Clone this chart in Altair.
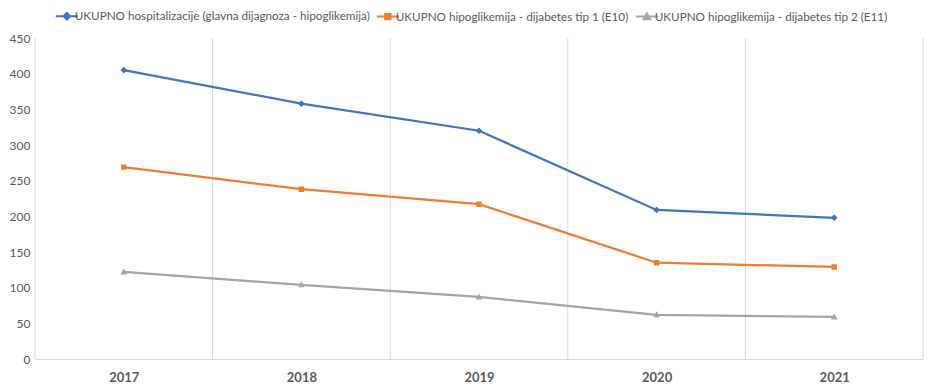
import altair as alt
import pandas as pd

years = [2017, 2018, 2019, 2020, 2021]
series = [
    "UKUPNO hospitalizacije (glavna dijagnoza - hipoglikemija)",
    "UKUPNO hipoglikemija - dijabetes tip 1 (E10)",
    "UKUPNO hipoglikemija - dijabetes tip 2 (E11)",
]
total_hosp = [405, 358, 320, 209, 198]
tip1 = [269, 238, 217, 135, 129]
tip2 = [122, 104, 87, 62, 59]
colors = ["#4472C4", "#ED7D31", "#A5A5A5"]
y_ticks = list(range(0, 451, 50))

# legend/marker symbols: a short line plus the marker (line only visible when stroked)
seg = "M-3.7,0H3.7"
shapes = [
    seg + "M0,-1.1L1.1,0L0,1.1L-1.1,0Z",
    seg + "M-0.9,-0.9H0.9V0.9H-0.9Z",
    seg + "M0,-1.15L1.1,0.85H-1.1Z",
]

rows = []
for s, vals in zip(series, [total_hosp, tip1, tip2]):
    for yr, v in zip(years, vals):
        rows.append({"year": yr, "series": s, "value": v})
df = pd.DataFrame(rows)

bounds = pd.DataFrame({"b": [y - 0.5 for y in years] + [years[-1] + 0.5]})

FONT = "Lato"
GREY = "#595959"

x_enc = alt.X(
    "year:Q",
    scale=alt.Scale(domain=[years[0] - 0.5, years[-1] + 0.5], nice=False, zero=False),
    axis=alt.Axis(
        values=years, format="d", title=None, grid=False, ticks=False,
        domainColor="#d9d9d9", labelFontWeight="bold", labelFontSize=13,
        labelColor=GREY, labelPadding=12, labelFont=FONT,
    ),
)
y_enc = alt.Y(
    "value:Q",
    scale=alt.Scale(domain=[0, 450], nice=False),
    axis=alt.Axis(
        values=y_ticks, title=None, grid=False, ticks=False, domain=False,
        labelFontSize=12, labelColor=GREY, labelPadding=5, labelFont=FONT,
    ),
)
color_scale = alt.Scale(domain=series, range=colors)
shape_scale = alt.Scale(domain=series, range=shapes)

legend = alt.Legend(
    title=None, orient="none", direction="horizontal", legendX=22, legendY=-28,
    labelFont=FONT, labelFontSize=11.7, labelColor=GREY, labelLimit=0, symbolSize=36,
    symbolOffset=4, labelOffset=2, columnPadding=2, symbolStrokeWidth=2,
)

rules = alt.Chart(bounds).mark_rule(color="#d9d9d9", strokeWidth=1).encode(x="b:Q")

lines = alt.Chart(df).mark_line(strokeWidth=2.25).encode(
    x=x_enc, y=y_enc,
    color=alt.Color("series:N", scale=color_scale, sort=series, legend=legend),
)

points = alt.Chart(df).mark_point(filled=True, size=36, opacity=1).encode(
    x=x_enc, y=y_enc,
    color=alt.Color("series:N", scale=color_scale, sort=series, legend=legend),
    shape=alt.Shape("series:N", scale=shape_scale, sort=series, legend=legend),
)

legend_layer = alt.Chart(df).transform_filter("false").mark_point(
    filled=False, size=36, opacity=1, strokeWidth=2
).encode(
    x=x_enc, y=y_enc,
    color=alt.Color("series:N", scale=color_scale, sort=series, legend=legend),
    fill=alt.Fill("series:N", scale=alt.Scale(domain=series, range=colors), sort=series, legend=legend),
    shape=alt.Shape("series:N", scale=shape_scale, sort=series, legend=legend),
)

chart = alt.layer(rules, lines, points, legend_layer).properties(
    width=888, height=321,
    autosize=alt.AutoSizeParams(type="none"),
    padding={"left": 27, "top": 30, "right": 8, "bottom": 30},
    background="white",
).configure_view(stroke=None)

chart.save("out.html", embed_options={"renderer": "svg", "actions": False})
